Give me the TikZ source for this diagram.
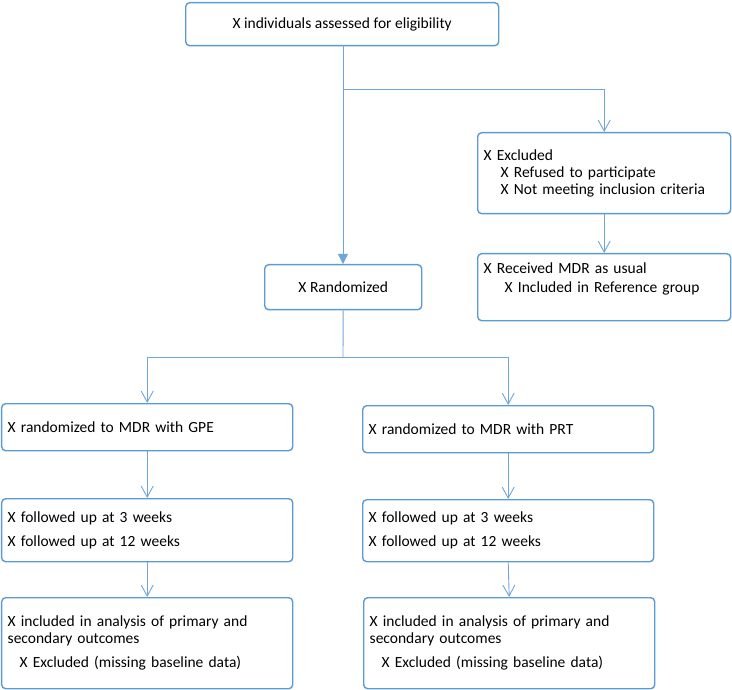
\documentclass[tikz,border=0pt]{standalone}
\usepackage{fontspec}
\setmainfont{Carlito}
\usetikzlibrary{arrows.meta}
\definecolor{bline}{RGB}{91,155,213}
\definecolor{cline}{RGB}{110,165,220}
\tikzset{
  box/.style={draw=bline, line width=1.4pt, rounded corners=4pt, fill=white,
    anchor=north west, inner xsep=6pt, inner ysep=0pt, font=\fontsize{15.5}{17}\selectfont},
  conn/.style={draw=cline, line width=0.9pt, -{Straight Barb[length=11pt,width=12pt]}},
  mainconn/.style={draw=cline, line width=0.9pt, -{Triangle[length=10pt,width=10pt]}},
  plain/.style={draw=cline, line width=0.9pt}
}
\begin{document}
\begin{tikzpicture}[x=1pt,y=-1pt]
\useasboundingbox (0,0) rectangle (732,690);
% boxes
\node[box, minimum width=313, minimum height=43, align=center] (top) at (185,2) {X individuals assessed for eligibility};
\node[box, minimum width=253, minimum height=81, text width=241, align=left] (excl) at (477,132)
  {X Excluded\\\hspace*{17pt}X Refused to participate\\\hspace*{17pt}X Not meeting inclusion criteria};
\node[box, minimum width=253, minimum height=67, text width=241, align=left] (recv) at (477,253)
  {X Received MDR as usual\\[2pt]\hspace*{21pt}X Included in Reference group\\[2pt]\mbox{}};
\node[box, minimum width=157, minimum height=45, align=center] (rand) at (264,264) {X Randomized};
\node[box, minimum width=291, minimum height=47, text width=279, align=left] (gpe) at (1,403) {X randomized to MDR with GPE};
\node[box, minimum width=291, minimum height=47, text width=279, align=left] (prt) at (362,405) {X randomized to MDR with PRT};
\node[box, minimum width=291, minimum height=63, text width=279, align=left] (fu1) at (1,498)
  {X followed up at 3 weeks\\[7pt]X followed up at 12 weeks};
\node[box, minimum width=291, minimum height=62, text width=279, align=left] (fu2) at (362,499)
  {X followed up at 3 weeks\\[7pt]X followed up at 12 weeks};
\node[box, minimum width=291, minimum height=91, text width=279, align=left] (an1) at (1,597)
  {X included in analysis of primary and\\secondary outcomes\\[7pt]\hspace*{12pt}X Excluded (missing baseline data)};
\node[box, minimum width=291, minimum height=91, text width=279, align=left] (an2) at (363,597)
  {X included in analysis of primary and\\secondary outcomes\\[7pt]\hspace*{12pt}X Excluded (missing baseline data)};
% connectors
\coordinate (b1) at (343,89);
\coordinate (split) at (343,357);
\draw[mainconn] (343,45) -- (rand.north -| 343,0);
\draw[conn] (b1) -| (excl.north);
\draw[conn] (excl.south) -- (recv.north);
\draw[plain] (rand.south) -- (split);
\draw[conn] (split) -| (gpe.north);
\draw[conn] (split) -| (prt.north);
\draw[conn] (gpe.south) -- (fu1.north);
\draw[conn] (fu1.south) -- (an1.north);
\draw[conn] (prt.south) -- (fu2.north);
\draw[conn] (fu2.south) -- (an2.north);
\end{tikzpicture}
\end{document}
